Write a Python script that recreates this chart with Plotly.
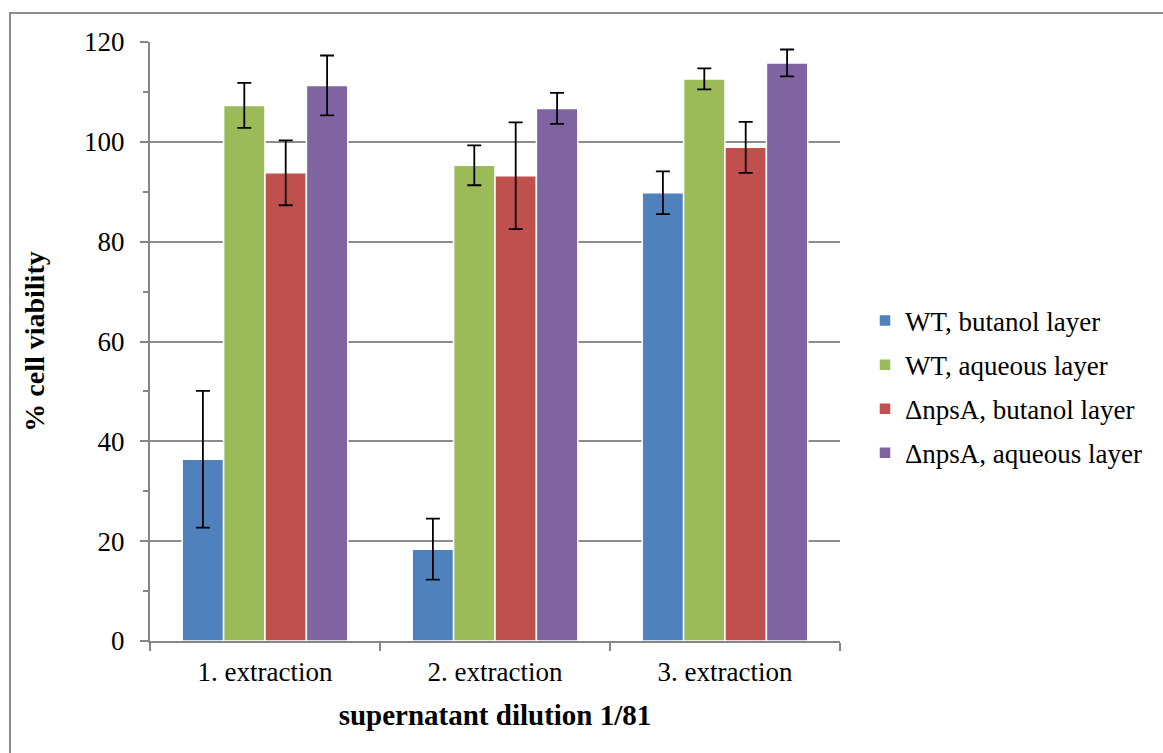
import plotly.graph_objects as go

categories = ["1. extraction", "2. extraction", "3. extraction"]

series_names = ["WT, butanol layer", "WT, aqueous layer",
                "\u0394npsA, butanol layer", "\u0394npsA, aqueous layer"]
series_colors = ["#4F81BD", "#9BBB59", "#C0504D", "#8064A2"]

wt_butanol = [36.4, 18.4, 89.8]
wt_aqueous = [107.3, 95.3, 112.6]
npsa_butanol = [93.8, 93.2, 98.9]
npsa_aqueous = [111.3, 106.7, 115.8]

wt_butanol_err = [13.7, 6.1, 4.3]
wt_aqueous_err = [4.5, 4.0, 2.1]
npsa_butanol_err = [6.5, 10.7, 5.1]
npsa_aqueous_err = [6.0, 3.1, 2.7]

values = [wt_butanol, wt_aqueous, npsa_butanol, npsa_aqueous]
errors = [wt_butanol_err, wt_aqueous_err, npsa_butanol_err, npsa_aqueous_err]

serif = "Liberation Serif"

fig = go.Figure()
for name, color, vals, errs in zip(series_names, series_colors, values, errors):
    fig.add_trace(go.Bar(
        name=name,
        legendgroup=name,
        x=categories,
        y=vals,
        marker=dict(color=color, line=dict(color="white", width=1.5)),
        error_y=dict(type="data", array=errs, visible=True,
                     color="black", thickness=1.8, width=7),
    ))

fig.update_layout(
    width=1163, height=753,
    margin=dict(l=150, r=323, t=42, b=112),
    paper_bgcolor="white",
    plot_bgcolor="white",
    barmode="group",
    bargap=0.28,
    bargroupgap=0.0,
    font=dict(family=serif, color="black"),
    showlegend=True,
    legend=dict(
        x=(865 - 150) / 690, xanchor="left",
        y=(641 - 387) / 599, yanchor="middle",
        font=dict(family=serif, size=27, color="black"),
        itemwidth=30, traceorder="grouped", tracegroupgap=6,
        bgcolor="rgba(0,0,0,0)",
    ),
    xaxis=dict(
        showline=True, linecolor="#868686", linewidth=2,
        ticks="outside", tickson="boundaries", ticklen=8,
        tickcolor="#868686", tickwidth=2,
        tickfont=dict(family=serif, size=27, color="black"),
        ticklabelstandoff=6,
        title=dict(text="<b>supernatant dilution 1/81</b>",
                   font=dict(family=serif, size=29, color="black"),
                   standoff=18),
        showgrid=False,
    ),
    yaxis=dict(
        range=[0, 120],
        dtick=20,
        showline=True, linecolor="#868686", linewidth=2,
        ticks="outside", ticklen=8, tickcolor="#868686", tickwidth=2,
        tickfont=dict(family=serif, size=27, color="black"),
        ticklabelstandoff=10,
        showgrid=True, gridcolor="#8C8C8C", gridwidth=1.5,
        zeroline=False,
        minor=dict(ticks="outside", dtick=10, ticklen=5,
                   tickcolor="#868686", tickwidth=1.5, showgrid=False),
        title=dict(text="<b>% cell viability</b>",
                   font=dict(family=serif, size=28, color="black"),
                   standoff=31),
    ),
    shapes=[dict(
        type="rect", xref="paper", yref="paper",
        x0=(10 - 150) / 690, x1=(1175 - 150) / 690,
        y0=-(765 - 641) / 599, y1=(641 - 13) / 599,
        line=dict(color="#8C8C8C", width=2), fillcolor="rgba(0,0,0,0)",
        layer="below",
    )],
)

fig.write_html("out.html")
